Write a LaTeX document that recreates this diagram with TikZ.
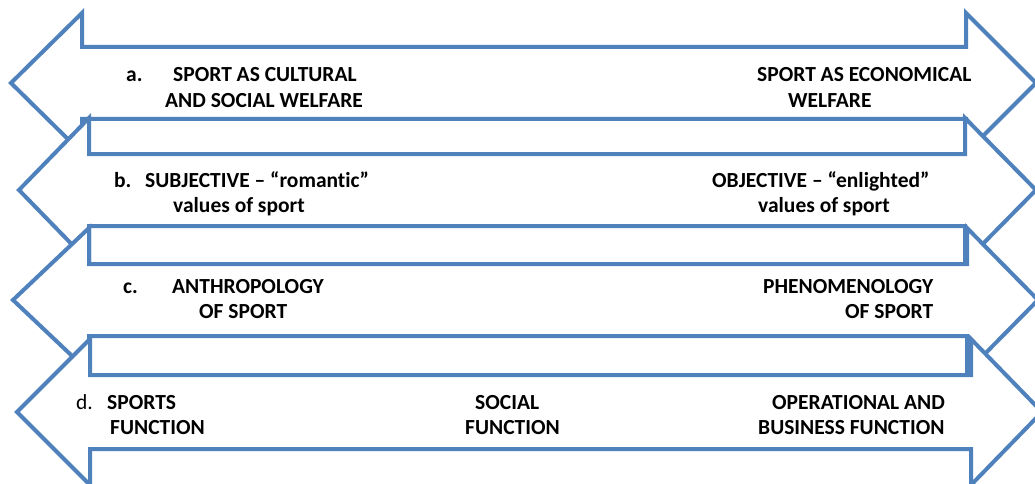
\documentclass[tikz,border=0pt]{standalone}
\usepackage{fontspec}
\setmainfont{Carlito}[Ligatures=NoCommon]
\usepackage{xcolor}
\definecolor{arrowblue}{RGB}{79,129,189}
\tikzset{
  dblarrow/.style={draw=arrowblue, line width=4pt, fill=white, line join=miter},
  lbl/.style={anchor=base west, inner sep=0pt, font=\fontsize{21.5}{25}\selectfont\bfseries},
  lblplain/.style={lbl, font=\fontsize{21.5}{25}\selectfont}
}
\begin{document}
\begin{tikzpicture}[x=1pt,y=-1pt]
\useasboundingbox (0,0) rectangle (1035,484);
\clip (0,0) rectangle (1035,484);

% Drawing arrow a
\draw [dblarrow] (11,83) -- (82,13) -- (82,47) -- (966,47) -- (966,13) -- (1036,83)
  -- (966,153) -- (966,119) -- (82,119) -- (82,153) -- cycle;

% Drawing arrow b
\draw [dblarrow] (19,190) -- (89,118) -- (89,154) -- (965,154) -- (965,118) -- (1036,190)
  -- (965,262) -- (965,226) -- (89,226) -- (89,262) -- cycle;

% Drawing arrow c
\draw [dblarrow] (13,300) -- (89,228) -- (89,264) -- (967,264) -- (967,228) -- (1038,300)
  -- (967,372) -- (967,336) -- (89,336) -- (89,372) -- cycle;

% Drawing arrow d
\draw [dblarrow] (17,412) -- (90,339) -- (90,375) -- (971,375) -- (971,339) -- (1042,412)
  -- (971,485) -- (971,449) -- (90,449) -- (90,485) -- cycle;

% Labels of arrow a
\node [lbl] (aNum) at (126,82) {a.};
\node [lbl] (aLeftOne) at (173,82) {SPORT AS CULTURAL};
\node [lbl] (aLeftTwo) at (165,107) {AND SOCIAL WELFARE};
\node [lbl] (aRightOne) at (757,82) {SPORT AS ECONOMICAL};
\node [lbl] (aRightTwo) at (788,107) {WELFARE};

% Labels of arrow b
\node [lbl] (bNum) at (114,187) {b.};
\node [lbl] (bLeftOne) at (145,187) {SUBJECTIVE – “romantic”};
\node [lbl] (bLeftTwo) at (173,212) {values of sport};
\node [lbl] (bRightOne) at (712,187) {OBJECTIVE – “enlighted”};
\node [lbl] (bRightTwo) at (758,212) {values of sport};

% Labels of arrow c
\node [lbl] (cNum) at (123,293) {c.};
\node [lbl] (cLeftOne) at (172,293) {ANTHROPOLOGY};
\node [lbl] (cLeftTwo) at (199,318) {OF SPORT};
\node [lbl] (cRightOne) at (763,293) {PHENOMENOLOGY};
\node [lbl] (cRightTwo) at (845,318) {OF SPORT};

% Labels of arrow d
\node [lblplain] (dNum) at (76,409) {d.};
\node [lbl] (dLeftOne) at (107,409) {SPORTS};
\node [lbl] (dLeftTwo) at (110,434) {FUNCTION};
\node [lbl] (dMidOne) at (475,409) {SOCIAL};
\node [lbl] (dMidTwo) at (465,434) {FUNCTION};
\node [lbl] (dRightOne) at (772,409) {OPERATIONAL AND};
\node [lbl] (dRightTwo) at (758,434) {BUSINESS FUNCTION};
\end{tikzpicture}
\end{document}
